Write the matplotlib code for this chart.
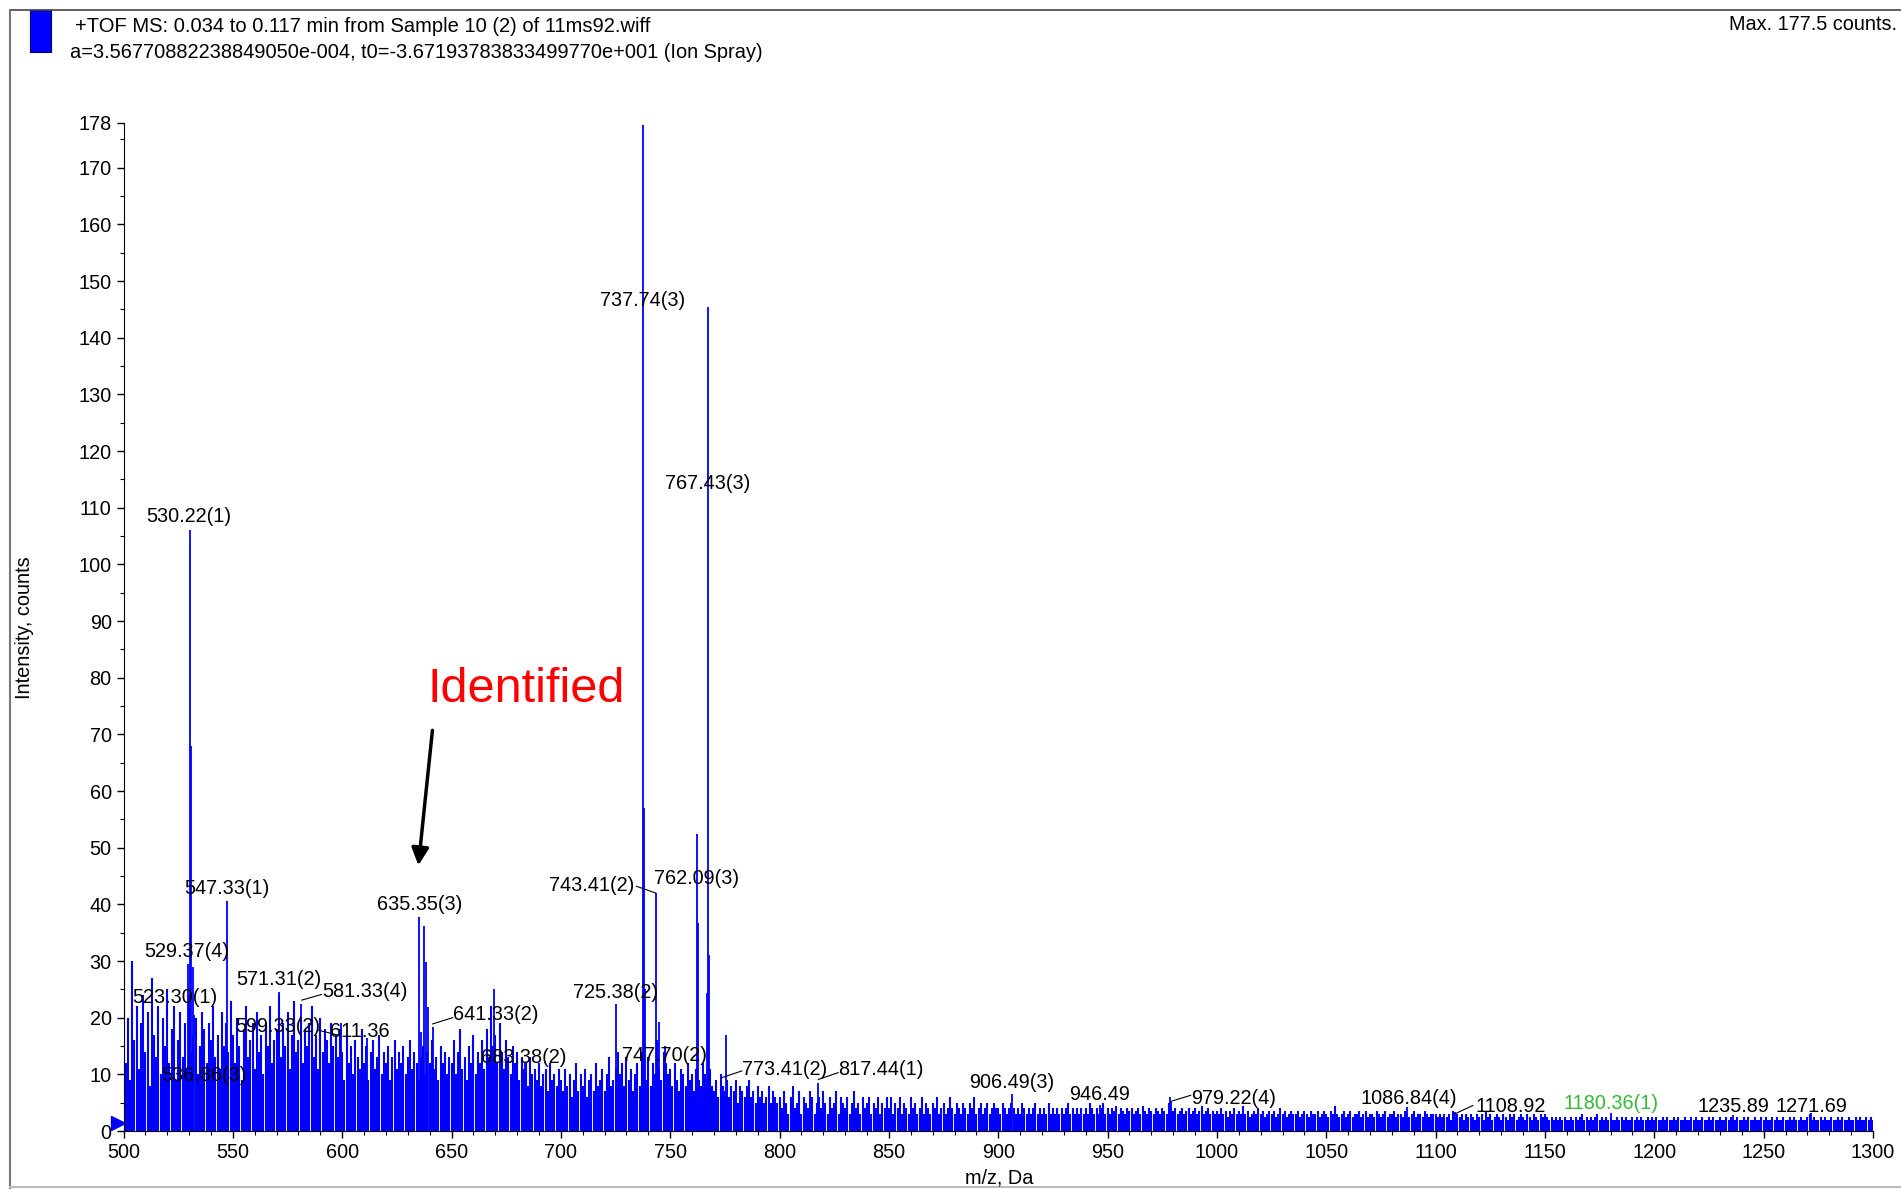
"""
Recreate the +TOF MS spectrum (Sample 10 (2) of 11ms92.wiff), 500-1300 m/z.
"""

import numpy as np
import matplotlib.pyplot as plt
from matplotlib.lines import Line2D
from matplotlib.patches import Rectangle

plt.rcParams['font.family'] = ['Liberation Sans', 'DejaVu Sans']

# --- background sticks, one per Da starting at m/z 500 ---
bg_500 = [28, 12, 20, 9, 30, 16, 22, 11, 19, 24, 14, 21, 8, 27, 17, 13, 22, 10, 20, 15,
          25, 12, 18, 22, 9, 16, 21, 13, 19, 11, 24, 14, 17, 20, 10, 15, 21, 18, 12, 19,
          16, 22, 13, 17, 11, 21, 15, 19, 14, 23]
bg_550 = [17, 12, 20, 15, 9, 18, 22, 13, 16, 19, 11, 21, 14, 17, 10, 19, 15, 22, 12, 16,
          18, 24, 13, 19, 15, 21, 11, 17, 23, 14, 16, 20, 12, 18, 15, 19, 22, 13, 17, 11,
          20, 14, 18, 16, 12, 19, 15, 17, 13, 18]
bg_600 = [14, 9, 17, 12, 15, 10, 16, 13, 11, 18, 12, 15, 9, 14, 16, 11, 13, 17, 10, 14,
          12, 15, 9, 13, 16, 11, 14, 12, 15, 10, 13, 16, 11, 14, 12, 9, 13, 15, 10, 14,
          12, 16, 11, 13, 9, 15, 12, 14, 10, 13]
bg_650 = [12, 16, 10, 14, 18, 11, 13, 9, 15, 12, 17, 10, 14, 12, 16, 11, 18, 13, 22, 15,
          17, 12, 19, 14, 11, 16, 13, 10, 15, 12, 14, 9, 13, 11, 12, 8, 13, 10, 11, 9,
          12, 8, 10, 11, 7, 12, 9, 10, 8, 11]
bg_700 = [9, 7, 11, 8, 10, 6, 9, 12, 7, 10, 8, 11, 6, 9, 10, 7, 12, 8, 9, 11,
          7, 10, 13, 8, 9, 11, 14, 10, 12, 8, 13, 9, 11, 7, 10, 12, 8, 14, 11, 9,
          13, 8, 12, 10, 16, 11, 9, 14, 12, 10]
bg_750 = [11, 8, 12, 9, 7, 11, 10, 8, 12, 9, 10, 7, 11, 9, 8, 12, 10, 9, 11, 8,
          7, 9, 6, 10, 8, 7, 9, 6, 8, 7, 9, 5, 8, 7, 6, 8, 9, 6, 7, 5,
          8, 6, 7, 5, 6, 8, 5, 7, 6, 5]
bg_800 = [6, 4, 7, 5, 3, 6, 8, 4, 5, 7, 3, 6, 5, 4, 7, 6, 3, 5, 6, 4,
          7, 5, 3, 6, 4, 5, 7, 3, 6, 5, 4, 6, 3, 5, 7, 4, 5, 3, 6, 4,
          5, 6, 3, 5, 4, 6, 3, 5, 4, 6]
bg_850 = [4, 6, 3, 5, 4, 6, 3, 5, 4, 3, 6, 4, 5, 3, 4, 6, 3, 5, 4, 3,
          5, 4, 6, 3, 4, 5, 3, 4, 6, 4, 3, 5, 4, 3, 5, 4, 3, 5, 4, 6,
          3, 4, 5, 3, 4, 5, 3, 4, 5, 4]
bg_900 = [4, 3, 5, 4, 3, 4, 5, 4, 3, 4, 3, 5, 4, 3, 4, 3, 4, 5, 3, 4,
          3, 4, 3, 5, 3, 4, 3, 4, 3, 4, 3, 4, 5, 3, 4, 3, 4, 3, 4, 3,
          4, 3, 5, 4, 3, 4, 3, 4, 5, 3]
bg_950 = [4, 3, 4, 3.5, 4.5, 3, 4, 3.5, 3, 4, 3.5, 4, 3, 3.5, 4, 3, 4.5, 3.5, 3, 4,
          3.5, 3, 4, 3.5, 3, 4, 3.5, 3, 5, 4, 3.5, 4, 3, 3.5, 4, 3, 3.5, 4, 3, 3.5,
          4, 3, 3.5, 4.5, 3, 3.5, 4, 3, 3.5, 3]
bg_1000 = [3.5, 3, 4, 3, 3.5, 2.5, 3.5, 3, 4, 3, 3.5, 3, 4.5, 3, 3.5, 2.5, 3, 3.5, 3, 4,
           3, 3.5, 2.5, 3, 3.5, 3, 3.5, 2.5, 3, 4, 3, 3.5, 2.5, 3, 3.5, 3, 3, 3.5, 2.5, 3,
           3.5, 3, 2.5, 3.5, 3, 3, 3.5, 2.5, 3, 3.5]
bg_1050 = [3, 2.5, 3.5, 3, 4.5, 3, 2.5, 3, 3.5, 2.5, 3, 3.5, 2.5, 3, 3, 3.5, 2.5, 3, 3.5, 2.5,
           3, 3, 2.5, 3.5, 3, 2.5, 3, 3.5, 2.5, 3, 3, 3.5, 2.5, 3, 3, 2.5, 3.5, 3, 2.5, 3,
           3.5, 2.5, 3, 3, 2.5, 3.5, 3, 2.5, 3, 3]
bg_1100 = [3, 2.5, 3, 2.5, 3, 2.5, 3, 2, 3.5, 2.5, 3, 2.5, 3, 2, 3, 2.5, 3, 2.5, 2, 3,
           2.5, 3, 2, 3.5, 2.5, 3, 2, 2.5, 3, 2.5, 2, 3, 2.5, 2, 3, 2.5, 3, 2, 2.5, 3,
           2.5, 2, 3, 2.5, 2, 3, 2.5, 2, 3, 2.5]
bg_1150 = [3, 2.5, 2, 2.5, 2, 2.5, 2, 2.5, 2, 2.5, 2, 2, 2.5, 2, 2.5, 2, 2.5, 3, 2, 2.5,
           2, 2.5, 2, 2.5, 3, 2, 2.5, 2, 2.5, 2, 2.5, 2, 2, 2.5, 2, 2.5, 2, 2.5, 2, 2,
           2.5, 2, 2.5, 2, 2.5, 2, 2, 2.5, 2, 2.5]
bg_1200 = [2, 2.5, 2, 2, 2.5, 2, 2.5, 2, 2, 2.5, 2, 2.5, 2, 2, 2.5, 2, 2, 2.5, 2, 2.5,
           2, 2, 2.5, 2, 2, 2.5, 2, 2.5, 2, 2, 2.5, 2, 2, 2.5, 2, 2.5, 2, 2, 2.5, 2,
           2, 2.5, 2, 2.5, 2, 2, 2.5, 2, 2, 2.5]
bg_1250 = [2, 2.5, 2, 2, 2.5, 2, 2.5, 2, 2, 2.5, 2, 2, 2.5, 2, 2.5, 2, 2, 2.5, 2, 2,
           2.5, 3, 2, 2.5, 2, 2, 2.5, 2, 2.5, 2, 2, 2.5, 2, 2, 2.5, 2, 2.5, 2, 2, 2.5,
           2, 2, 2.5, 2, 2.5, 2, 2, 2.5, 2, 2.5, 2]

# --- prominent peaks (m/z, counts) ---
peak_mz = [523.30, 529.37, 530.22, 530.90, 531.60, 532.20, 536.86, 547.33, 571.31,
           581.33, 599.33, 611.36, 635.35, 636.00, 637.40, 638.30, 639.40, 641.33,
           669.50, 683.38, 725.38, 737.74, 738.10, 738.50, 743.41, 744.90, 747.70,
           762.09, 762.50, 766.90, 767.43, 767.90, 773.41, 775.50, 817.44, 906.49,
           946.49, 978.60, 979.22, 1086.84, 1108.92, 1180.36, 1235.89, 1271.69]
peak_int = [21, 29.5, 106, 68, 29, 20.5, 9, 40.6, 24.5,
            22.5, 19, 16.4, 37.8, 17.5, 36.1, 29.8, 21.9, 18.4,
            25, 12, 22.5, 177.5, 57, 25, 42, 19.3, 15,
            52.5, 36.7, 24.3, 145.5, 31, 9.5, 17, 8.5, 6.5,
            4.6, 6, 5.3, 4.2, 3.4, 3.2, 2.9, 3.1]

# --- peak labels: text, x, y (centre of label) ---
label_txt = ['530.22(1)', '737.74(3)', '767.43(3)', '547.33(1)', '635.35(3)',
             '743.41(2)', '762.09(3)', '529.37(4)', '571.31(2)', '581.33(4)',
             '523.30(1)', '599.33(2)', '611.36', '641.33(2)', '683.38(2)',
             '725.38(2)', '536.86(3)', '747.70(2)', '773.41(2)', '817.44(1)',
             '906.49(3)', '946.49', '979.22(4)', '1086.84(4)', '1108.92',
             '1180.36(1)', '1235.89', '1271.69']
label_x = [529.9, 737.3, 767.2, 547.1, 635.3,
           714.0, 762.2, 528.8, 571.0, 610.3,
           523.3, 570.4, 608.1, 670.2, 683.0,
           725.1, 536.6, 747.3, 802.1, 846.5,
           906.4, 946.3, 1007.8, 1087.7, 1134.2,
           1180.2, 1236.2, 1271.7]
label_y = [108.5, 146.6, 114.2, 42.8, 40.0,
           43.4, 44.5, 31.7, 26.7, 24.6,
           23.5, 18.4, 17.5, 20.5, 13.0,
           24.4, 9.8, 13.3, 10.9, 10.9,
           8.6, 6.4, 5.8, 5.8, 4.3,
           4.9, 4.3, 4.3]
label_col = ['black'] * 25 + ['#33bb33'] + ['black'] * 2

# leader lines (x0, y0, x1, y1)
leaders = [(743.4, 42.0, 734.5, 43.2), (581.5, 23.1, 590.6, 24.1),
           (589.1, 17.8, 598.2, 16.9), (641.4, 18.9, 650.5, 20.0),
           (773.5, 9.4, 782.7, 10.6), (817.7, 9.1, 826.8, 10.3),
           (979.5, 5.3, 988.0, 6.3), (1108.7, 3.0, 1117.0, 4.5)]


def main():
    bg = (bg_500 + bg_550 + bg_600 + bg_650 + bg_700 + bg_750 + bg_800 + bg_850
          + bg_900 + bg_950 + bg_1000 + bg_1050 + bg_1100 + bg_1150 + bg_1200 + bg_1250)
    bg_mz = 500 + np.arange(len(bg))

    fig = plt.figure(figsize=(19.01, 11.89), dpi=100)
    ax = fig.add_axes([0.06497, 0.04878, 0.92030, 0.84819])

    ax.vlines(bg_mz, 0, bg, color='#0000ff', lw=1.5)
    ax.vlines(peak_mz, 0, peak_int, color='#0000ff', lw=1.3)

    for t, x, y, c in zip(label_txt, label_x, label_y, label_col):
        ax.text(x, y, t, ha='center', va='center', fontsize=14.3, color=c)
    for x0, y0, x1, y1 in leaders:
        ax.plot([x0, x1], [y0, y1], color='black', lw=0.8)

    ax.text(684, 78, 'Identified', color='red', fontsize=35, ha='center', va='center')
    ax.annotate('', xy=(634.7, 46.4), xytext=(641.4, 71.2),
                arrowprops=dict(arrowstyle='-|>', color='black', lw=2.5,
                                mutation_scale=26))

    # small start marker at the baseline
    ax.plot([497.3], [1.5], marker='>', color='#0000ff', ms=10, clip_on=False)

    ax.set_xlim(500, 1300)
    ax.set_ylim(0, 178)
    ax.set_xticks(np.arange(500, 1301, 50))
    ax.set_xticks(np.arange(500, 1301, 10), minor=True)
    ax.set_yticks(list(range(0, 171, 10)) + [178])
    ax.set_yticks(np.arange(0, 178, 5), minor=True)
    ax.tick_params(axis='both', which='major', labelsize=14.3, length=5, width=1, direction='out')
    ax.tick_params(axis='both', which='minor', length=3, width=0.8, direction='out')
    for s in ('top', 'right'):
        ax.spines[s].set_visible(False)

    fig.text(25 / 1901, 0.472, 'Intensity, counts', rotation=90, ha='center',
             va='center', fontsize=14.3)
    fig.text(0.5255, 0.0093, 'm/z, Da', ha='center', va='center', fontsize=14.3)

    # header
    fig.text(75 / 1901, 1 - 26 / 1189, '+TOF MS: 0.034 to 0.117 min from Sample 10 (2) of 11ms92.wiff',
             ha='left', va='center', fontsize=14.5)
    fig.text(70 / 1901, 1 - 52 / 1189,
             'a=3.56770882238849050e-004, t0=-3.67193783833499770e+001 (Ion Spray)',
             ha='left', va='center', fontsize=14.4)
    fig.text(1897 / 1901, 1 - 25 / 1189, 'Max. 177.5 counts.', ha='right', va='center', fontsize=14.3)
    fig.add_artist(Rectangle((30 / 1901, 1 - 52 / 1189), 21 / 1901, 42 / 1189,
                             transform=fig.transFigure, facecolor='#0000ff',
                             edgecolor='#000066', lw=0.8))

    # panel frame
    fig.add_artist(Line2D([10 / 1901, 1], [1 - 10 / 1189] * 2, transform=fig.transFigure,
                          color='#444444', lw=1.2))
    fig.add_artist(Line2D([10 / 1901] * 2, [0, 1 - 10 / 1189], transform=fig.transFigure,
                          color='#777777', lw=1.5))
    fig.add_artist(Line2D([10 / 1901, 1], [2.5 / 1189] * 2, transform=fig.transFigure,
                          color='#bbbbbb', lw=1.5))

    fig.savefig('out.png', dpi=100)


if __name__ == '__main__':
    main()
